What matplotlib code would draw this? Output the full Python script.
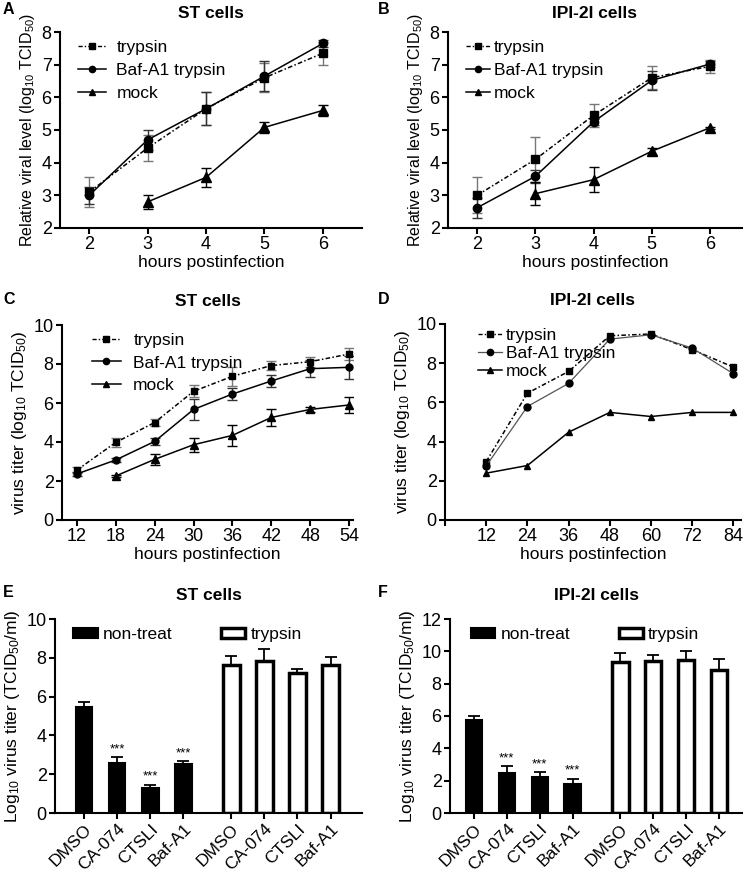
import numpy as np
import matplotlib
matplotlib.use("Agg")
import matplotlib.pyplot as plt
from matplotlib.patches import Patch
from matplotlib.lines import Line2D

plt.rcParams['font.family'] = ['Liberation Sans', 'DejaVu Sans']
plt.rcParams['mathtext.default'] = 'regular'
plt.rcParams['axes.linewidth'] = 1.5
plt.rcParams['xtick.major.width'] = 1.5
plt.rcParams['ytick.major.width'] = 1.5
plt.rcParams['xtick.major.size'] = 4
plt.rcParams['ytick.major.size'] = 4

# ---------------- data ----------------
# Panel A (ST cells, relative viral level)
a_hours = [2, 3, 4, 5, 6]
a_tryp = [3.1, 4.45, 5.65, 6.6, 7.35]
a_tryp_err = [0.45, 0.4, 0.5, 0.45, 0.35]
a_baf = [3.0, 4.7, 5.65, 6.65, 7.65]
a_baf_err = [0.25, 0.3, 0.5, 0.45, 0.12]
a_mock_hours = [3, 4, 5, 6]
a_mock = [2.8, 3.55, 5.08, 5.6]
a_mock_err = [0.22, 0.28, 0.18, 0.18]

# Panel B (IPI-2I cells, relative viral level)
b_hours = [2, 3, 4, 5, 6]
b_tryp = [3.0, 4.1, 5.45, 6.6, 6.95]
b_tryp_err = [0.55, 0.7, 0.35, 0.35, 0.2]
b_baf = [2.62, 3.58, 5.25, 6.52, 7.02]
b_baf_err = [0.3, 0.2, 0.1, 0.3, 0.1]
b_mock_hours = [3, 4, 5, 6]
b_mock = [3.05, 3.48, 4.35, 5.07]
b_mock_err = [0.35, 0.38, 0.1, 0.03]

# Panel C (ST cells, virus titer)
c_hours = [12, 18, 24, 30, 36, 42, 48, 54]
c_tryp = [2.56, 3.98, 5.0, 6.6, 7.37, 7.92, 8.12, 8.51]
c_tryp_err = [0.15, 0.25, 0.2, 0.3, 0.5, 0.25, 0.25, 0.3]
c_baf = [2.36, 3.08, 4.03, 5.67, 6.46, 7.13, 7.76, 7.83]
c_baf_err = [0.1, 0.1, 0.2, 0.55, 0.3, 0.3, 0.45, 0.6]
c_mock_hours = [18, 24, 30, 36, 42, 48, 54]
c_mock = [2.26, 3.11, 3.86, 4.34, 5.26, 5.67, 5.9]
c_mock_err = [0.05, 0.3, 0.35, 0.55, 0.45, 0.15, 0.4]

# Panel D (IPI-2I cells, virus titer)
d_hours = [12, 24, 36, 48, 60, 72, 84]
d_tryp = [2.98, 6.47, 7.58, 9.4, 9.49, 8.69, 7.8]
d_baf = [2.76, 5.79, 6.97, 9.23, 9.45, 8.77, 7.46]
d_mock = [2.39, 2.78, 4.48, 5.49, 5.28, 5.49, 5.49]

# Panels E/F (bar charts)
treatments = ['DMSO', 'CA-074', 'CTSLI', 'Baf-A1']
e_nontreat = [5.48, 2.59, 1.31, 2.55]
e_nontreat_err = [0.22, 0.3, 0.15, 0.12]
e_trypsin = [7.64, 7.86, 7.24, 7.64]
e_trypsin_err = [0.46, 0.58, 0.17, 0.38]
f_nontreat = [5.77, 2.47, 2.23, 1.77]
f_nontreat_err = [0.21, 0.42, 0.31, 0.35]
f_trypsin = [9.32, 9.38, 9.48, 8.87]
f_trypsin_err = [0.58, 0.39, 0.56, 0.68]
sig_marks = ['', '***', '***', '***']

# ---------------- figure ----------------
W, H = 745, 874
fig = plt.figure(figsize=(W / 100, H / 100), dpi=100)

TICK_FS = 13
LAB_FS = 12
LEG_FS = 12.5
TITLE_FS = 12.5
DASHDOT = (0, (3, 1.5, 1, 1.5))


def add_ax(l, r, t, b):
    return fig.add_axes([l / W, 1 - b / H, (r - l) / W, (b - t) / H])


def style(ax):
    ax.spines['top'].set_visible(False)
    ax.spines['right'].set_visible(False)
    ax.tick_params(labelsize=TICK_FS, direction='out', pad=2)


def legend_handles(baf_color='black', baf_lw=1.1):
    return [
        Line2D([], [], color='black', ls=DASHDOT, lw=1.0, marker='s', ms=4.5, label='trypsin'),
        Line2D([], [], color=baf_color, ls='-', lw=baf_lw, marker='o', ms=4.5, mfc='black', mec='black',
               label='Baf-A1 trypsin'),
        Line2D([], [], color='black', ls='-', lw=1.1, marker='^', ms=5, label='mock'),
    ]


def line_panel(ax, x, tr, tr_e, bf, bf_e, mx, mk, mk_e, ms=5.5, lw=1.1):
    ekw = dict(capsize=3.5, elinewidth=1.0, capthick=1.0)
    ax.errorbar(x, tr, yerr=tr_e, color='black', ecolor='#777777', ls=DASHDOT,
                lw=lw, marker='s', ms=ms, **ekw)
    ax.errorbar(x, bf, yerr=bf_e, color='black', ecolor='#333333', ls='-',
                lw=lw, marker='o', ms=ms, **ekw)
    ax.errorbar(mx, mk, yerr=mk_e, color='black', ecolor='black', ls='-',
                lw=lw, marker='^', ms=ms + 1, **ekw)


# Panel A
axA = add_ax(60, 362, 32, 228)
style(axA)
line_panel(axA, a_hours, a_tryp, a_tryp_err, a_baf, a_baf_err, a_mock_hours, a_mock, a_mock_err, ms=6)
axA.set_xlim(1.5, 6.67)
axA.set_ylim(2, 8)
axA.set_xticks(a_hours)
axA.set_yticks([2, 3, 4, 5, 6, 7, 8])
axA.set_xlabel('hours postinfection', fontsize=LAB_FS + 0.5, labelpad=1)
axA.set_ylabel('Relative viral level (log$_{10}$ TCID$_{50}$)', fontsize=LAB_FS - 0.5, labelpad=3)
axA.set_title('ST cells', fontsize=TITLE_FS, fontweight='bold', pad=10)
axA.legend(handles=legend_handles(), loc='upper left', bbox_to_anchor=(0.02, 1.02), frameon=False,
           fontsize=LEG_FS, handlelength=1.6, handletextpad=0.6, labelspacing=0.45, borderaxespad=0.3)

# Panel B
axB = add_ax(448, 742, 32, 228)
style(axB)
line_panel(axB, b_hours, b_tryp, b_tryp_err, b_baf, b_baf_err, b_mock_hours, b_mock, b_mock_err, ms=6)
axB.set_xlim(1.5, 6.55)
axB.set_ylim(2, 8)
axB.set_xticks(b_hours)
axB.set_yticks([2, 3, 4, 5, 6, 7, 8])
axB.set_xlabel('hours postinfection', fontsize=LAB_FS + 0.5, labelpad=1)
axB.set_ylabel('Relative viral level (log$_{10}$ TCID$_{50}$)', fontsize=LAB_FS - 0.5, labelpad=3)
axB.set_title('IPI-2I cells', fontsize=TITLE_FS, fontweight='bold', pad=10)
axB.legend(handles=legend_handles(), loc='upper left', bbox_to_anchor=(0.02, 1.02), frameon=False,
           fontsize=LEG_FS, handlelength=1.4, handletextpad=0.2, labelspacing=0.45, borderaxespad=0.3)

# Panel C
axC = add_ax(62, 353, 325, 520)
style(axC)
line_panel(axC, c_hours, c_tryp, c_tryp_err, c_baf, c_baf_err, c_mock_hours, c_mock, c_mock_err, ms=5)
axC.set_xlim(9.7, 54.6)
axC.set_ylim(0, 10)
axC.set_xticks(c_hours)
axC.set_yticks([0, 2, 4, 6, 8, 10])
axC.set_xlabel('hours postinfection', fontsize=LAB_FS + 0.5, labelpad=1)
axC.set_ylabel('virus titer (log$_{10}$ TCID$_{50}$)', fontsize=LAB_FS + 0.5, labelpad=3)
axC.set_title('ST cells', fontsize=TITLE_FS, fontweight='bold', pad=14)
axC.legend(handles=legend_handles(), loc='upper left', bbox_to_anchor=(0.06, 1.02), frameon=False,
           fontsize=LEG_FS, handlelength=1.7, handletextpad=0.7, labelspacing=0.4, borderaxespad=0.3)

# Panel D
axD = add_ax(445, 741, 324, 520)
style(axD)
axD.plot(d_hours, d_tryp, color='black', ls=DASHDOT, lw=1.1, marker='s', ms=5)
axD.plot(d_hours, d_baf, color='#555555', ls='-', lw=0.9, marker='o', ms=5, mfc='black', mec='black')
axD.plot(d_hours, d_mock, color='black', ls='-', lw=1.1, marker='^', ms=5)
axD.set_xlim(0, 86.2)
axD.set_ylim(0, 10)
axD.set_xticks([0] + d_hours)
axD.set_xticklabels([''] + [str(h) for h in d_hours])
axD.set_yticks([0, 2, 4, 6, 8, 10])
axD.set_xlabel('hours postinfection', fontsize=LAB_FS + 0.5, labelpad=1)
axD.set_ylabel('virus titer (log$_{10}$ TCID$_{50}$)', fontsize=LAB_FS + 0.5, labelpad=3)
axD.set_title('IPI-2I cells', fontsize=TITLE_FS, fontweight='bold', pad=14)
axD.legend(handles=legend_handles('#555555', 0.9), loc='upper left', bbox_to_anchor=(0.07, 1.04),
           frameon=False, fontsize=LEG_FS, handlelength=1.4, handletextpad=0.2, labelspacing=0.15,
           borderaxespad=0.3)


# Panels E & F
def bar_panel(ax, nt, nt_e, tr, tr_e, ymax, yticks, title, anchor_x):
    pos1 = np.arange(len(treatments))
    pos2 = pos1 + 4.45
    ax.bar(pos1, nt, width=0.5, color='black', edgecolor='black', lw=1.5)
    ax.errorbar(pos1, nt, yerr=[np.zeros(len(nt)), nt_e], fmt='none', ecolor='black',
                capsize=4, elinewidth=1.3, capthick=1.3)
    ax.bar(pos2, tr, width=0.5, color='white', edgecolor='black', lw=2.5)
    ax.errorbar(pos2, tr, yerr=[np.zeros(len(tr)), tr_e], fmt='none', ecolor='black',
                capsize=4, elinewidth=1.3, capthick=1.3)
    for p, v, e, s in zip(pos1, nt, nt_e, sig_marks):
        if s:
            ax.text(p, v + e + 0.01 * ymax, s, ha='center', va='bottom', fontsize=9.5)
    ax.set_ylim(0, ymax)
    ax.set_yticks(yticks)
    ax.set_xticks(list(pos1) + list(pos2))
    ax.set_xticklabels(treatments * 2, rotation=45, ha='right', rotation_mode='anchor', fontsize=12.5)
    ax.set_ylabel('Log$_{10}$ virus titer (TCID$_{50}$/ml)', fontsize=LAB_FS + 0.5, labelpad=3)
    ax.set_title(title, fontsize=TITLE_FS, fontweight='bold', pad=14)
    h1 = Patch(facecolor='black', edgecolor='black', lw=1.5, label='non-treat')
    h2 = Patch(facecolor='white', edgecolor='black', lw=2.5, label='trypsin')
    ax.legend(handles=[h1, h2], ncol=2, loc='upper left', bbox_to_anchor=(anchor_x, 1.02), frameon=False,
              fontsize=LEG_FS, handlelength=1.4, handleheight=0.5, handletextpad=0.3,
              columnspacing=2.8, borderaxespad=0.3)


axE = add_ax(55, 362, 619, 813)
style(axE)
bar_panel(axE, e_nontreat, e_nontreat_err, e_trypsin, e_trypsin_err, 10, [0, 2, 4, 6, 8, 10], 'ST cells', 0.02)
axE.set_xlim(-0.88, 8.4)

axF = add_ax(450, 742, 619, 813)
style(axF)
bar_panel(axF, f_nontreat, f_nontreat_err, f_trypsin, f_trypsin_err, 12, [0, 2, 4, 6, 8, 10, 12],
          'IPI-2I cells', 0.03)
axF.set_xlim(-0.73, 8.15)

# Panel letters
for letter, (x, y) in zip('ABCDEF', [(3, 2), (378, 2), (3, 292), (378, 292), (3, 585), (378, 585)]):
    fig.text(x / W, 1 - y / H, letter, fontsize=11.5, fontweight='bold', va='top', ha='left')

fig.savefig('out.png', dpi=100)
